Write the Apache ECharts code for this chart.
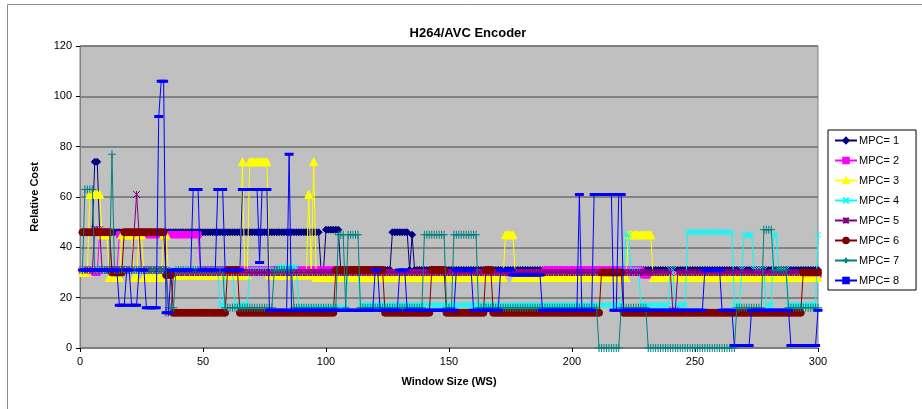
<!DOCTYPE html>
<html>
<head>
<meta charset="utf-8">
<script src="https://cdn.jsdelivr.net/npm/echarts@6/dist/echarts.min.js"></script>
<style>html,body{margin:0;padding:0;background:#fff}#c{width:922px;height:409px}</style>
</head>
<body>
<div id="c"></div>
<script>
// Data, as [value, count] runs over Window Size 1..300
const seriesNames = ['MPC= 1','MPC= 2','MPC= 3','MPC= 4','MPC= 5','MPC= 6','MPC= 7','MPC= 8'];
const xTicks = [0, 50, 100, 150, 200, 250, 300];
const yTicks = [0, 20, 40, 60, 80, 100, 120];

const mpc1Runs = [[46,5],[74,2],[46,90],[31,2],[47,6],[31,21],[46,7],[31,1],[45,1],[31,165]];
const mpc2Runs = [[30,7],[46,5],[31,3],[45,33],[31,60],[30,80],[31,40],[29,72]];
const mpc3Runs = [[30,3],[61,5],[45,3],[28,5],[45,5],[28,2],[45,2],[28,8],[45,2],[29,30],[74,1],[29,2],[74,8],[29,16],[61,1],[29,1],[74,1],[28,77],[45,4],[28,46],[45,10],[28,68]];
const mpc4Runs = [[31,56],[17,2],[31,4],[17,6],[31,12],[32,8],[16,20],[31,5],[17,107],[31,1],[45,2],[31,4],[17,12],[31,2],[17,5],[46,19],[17,3],[31,1],[45,4],[31,5],[17,3],[45,2],[31,4],[17,12],[45,1]];
const mpc5Runs = [[31,5],[47,3],[31,13],[46,1],[61,1],[46,1],[31,11],[14,2],[30,203],[15,2],[30,58]];
const mpc6Runs = [[46,12],[30,5],[46,17],[29,3],[14,22],[31,5],[14,39],[31,20],[14,19],[31,6],[14,16],[31,3],[14,44],[30,9],[14,73],[30,7]];
const mpc7Runs = [[31,1],[63,4],[31,7],[77,1],[31,22],[16,3],[31,20],[16,20],[31,8],[16,18],[45,3],[16,1],[45,5],[16,26],[45,9],[16,3],[45,10],[16,49],[0,9],[16,11],[0,36],[16,11],[47,4],[31,6],[16,13]];
const mpc8Runs = [[31,15],[17,3],[31,2],[17,3],[31,3],[16,5],[92,1],[106,2],[14,2],[31,9],[63,3],[31,7],[63,3],[31,7],[63,7],[34,1],[63,3],[15,8],[77,1],[15,34],[31,2],[15,8],[31,3],[15,20],[31,7],[15,11],[31,5],[29,12],[15,15],[61,1],[15,5],[61,8],[15,2],[61,2],[15,33],[31,7],[15,5],[1,7],[15,16],[1,11],[15,1]];

const allRuns = [mpc1Runs, mpc2Runs, mpc3Runs, mpc4Runs, mpc5Runs, mpc6Runs, mpc7Runs, mpc8Runs];
const colors = ['#000080','#FF00FF','#FFFF00','#00FFFF','#800080','#800000','#008080','#0000FF'];
const symbols = ['diamond','rect','triangle','path://M0,0L10,10M10,0L0,10','path://M0,0L10,10M10,0L0,10M5,0L5,10','circle','path://M5,0L5,10M0,5L10,5','rect'];
const symSizes = [7,6,8,6,7,7,8,[6,2]];

function expand(runs){
  const out = [];
  let x = 1;
  runs.forEach(([v,n]) => { for(let i=0;i<n;i++){ out.push([x, v]); x++; } });
  return out;
}

const chart = echarts.init(document.getElementById('c'), null, {renderer:'canvas'});
const font = 'Liberation Sans, Arial, sans-serif';
const series = seriesNames.map((name, i) => ({
  name, type:'line', data: expand(allRuns[i]),
  symbol: symbols[i], symbolSize: symSizes[i], showAllSymbol: true,
  lineStyle:{color:colors[i], width:1},
  itemStyle:{color:colors[i], borderColor:colors[i], borderWidth:1},
  emphasis:{disabled:true}, animation:false, z: 2 + i
}));

chart.setOption({
  animation:false,
  backgroundColor:'#fff',
  title:{text:'H264/AVC Encoder', left:463, top:22, textAlign:'center',
    textStyle:{fontFamily:font, fontSize:13, fontWeight:'bold', color:'#000'}},
  graphic:[{type:'rect', shape:{x:7.5,y:4.5,width:1000,height:1000}, style:{fill:'none', stroke:'#8c8c8c', lineWidth:1}, silent:true}],
  grid:{left:80, right:104, top:46, bottom:61, show:true, backgroundColor:'#c0c0c0', borderColor:'#808080', borderWidth:1},
  legend:{orient:'vertical', left:828, top:130, itemWidth:22, itemHeight:7, itemGap:9,
    backgroundColor:'#fff', borderColor:'#000', borderWidth:1, padding:[5,17,4,6],
    textStyle:{fontFamily:font, fontSize:11, color:'#000', padding:[0,0,0,-3]}, data:seriesNames},
  xAxis:{type:'value', min:0, max:300, interval:50,
    name:'Window Size (WS)', nameLocation:'middle', nameGap:28,
    nameTextStyle:{fontFamily:font, fontSize:11, fontWeight:'bold', color:'#000'},
    axisLine:{show:true, lineStyle:{color:'#808080'}}, axisTick:{show:true, length:4, lineStyle:{color:'#000'}},
    axisLabel:{fontFamily:font, fontSize:11, color:'#000', margin:8, formatter:v=>xTicks.includes(v)?String(v):''},
    splitLine:{show:false}},
  yAxis:{type:'value', min:0, max:120, interval:20,
    name:'Relative Cost', nameLocation:'middle', nameGap:40, nameRotate:90,
    nameTextStyle:{fontFamily:font, fontSize:11, fontWeight:'bold', color:'#000'},
    axisLine:{show:true, lineStyle:{color:'#808080'}}, axisTick:{show:true, length:4, lineStyle:{color:'#000'}},
    axisLabel:{fontFamily:font, fontSize:11, color:'#000', margin:8, formatter:v=>yTicks.includes(v)?String(v):''},
    splitLine:{show:true, lineStyle:{color:'#6e6e6e', width:1.5}}},
  series
});
</script>
</body>
</html>
